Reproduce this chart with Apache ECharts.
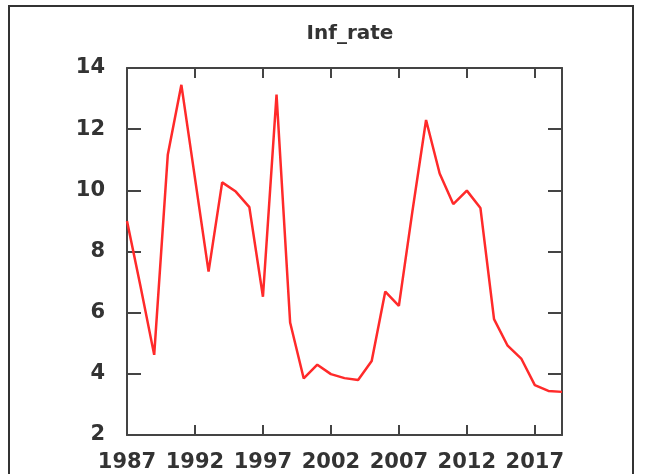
<!DOCTYPE html>
<html>
<head>
<meta charset="utf-8">
<script src="https://cdn.jsdelivr.net/npm/echarts@6/dist/echarts.min.js"></script>
<style>
  html, body { margin: 0; padding: 0; background: #fff; }
  #chart { width: 646px; height: 474px; }
</style>
</head>
<body>
<div id="chart"></div>
<script>
// inflation rate by year
var years = [1987, 1988, 1989, 1990, 1991, 1992, 1993, 1994, 1995, 1996, 1997,
  1998, 1999, 2000, 2001, 2002, 2003, 2004, 2005, 2006, 2007, 2008,
  2009, 2010, 2011, 2012, 2013, 2014, 2015, 2016, 2017, 2018, 2019]
var infRate = [9.0, 6.85, 4.62, 11.16, 13.45, 10.4, 7.34, 10.26, 9.96, 9.45, 6.52,
  13.13, 5.68, 3.85, 4.3, 3.99, 3.86, 3.8, 4.42, 6.69, 6.22, 9.33,
  12.3, 10.55, 9.55, 9.99, 9.42, 5.79, 4.92, 4.5, 3.63, 3.44, 3.41]
var titleText = 'Inf_rate'

var axisColor = '#444'
var textColor = '#333'
var labelFont = 'DejaVu Sans'

var chart = echarts.init(document.getElementById('chart'), null, { renderer: 'canvas' })

var seriesData = []
for (var i = 0; i < years.length; i++) {
  seriesData.push([years[i], infRate[i]])
}

function frameAxis(extra) {
  var axis = {
    type: 'value',
    axisLine: { show: true, lineStyle: { color: axisColor, width: 2 } },
    axisTick: { show: true, inside: true, lineStyle: { color: axisColor, width: 2 } },
    splitLine: { show: false },
    axisLabel: { show: false }
  }
  for (var k in extra) axis[k] = extra[k]
  return axis
}

var option = {
  animation: false,
  backgroundColor: '#fff',
  title: {
    text: titleText,
    left: 345,
    top: 19,
    textAlign: 'center',
    textStyle: { fontFamily: labelFont, fontSize: 20, fontWeight: 'bold', color: textColor }
  },
  grid: { left: 127, right: 84, top: 68, bottom: 39 },
  xAxis: [
    frameAxis({
      min: 1987, max: 2019, interval: 5, position: 'bottom',
      axisTick: { show: true, inside: true, length: 10, lineStyle: { color: axisColor, width: 2 } },
      axisLabel: {
        show: true, showMaxLabel: false, margin: 17,
        fontFamily: labelFont, fontSize: 21, fontWeight: 'bold', color: textColor,
        formatter: function (v) { return String(v) }
      }
    }),
    frameAxis({
      min: 1987, max: 2019, interval: 5, position: 'top',
      axisTick: { show: true, inside: true, length: 10, lineStyle: { color: axisColor, width: 2 } }
    })
  ],
  yAxis: [
    frameAxis({
      min: 2, max: 14, interval: 2, position: 'left',
      axisTick: { show: true, inside: true, length: 14, lineStyle: { color: axisColor, width: 2 } },
      axisLabel: {
        show: true, margin: 22,
        fontFamily: labelFont, fontSize: 21, fontWeight: 'bold', color: textColor
      }
    }),
    frameAxis({
      min: 2, max: 14, interval: 2, position: 'right',
      axisTick: { show: true, inside: true, length: 14, lineStyle: { color: axisColor, width: 2 } }
    })
  ],
  series: [{
    name: titleText,
    type: 'line',
    data: seriesData,
    showSymbol: false,
    smooth: false,
    lineStyle: { color: '#ff2a2a', width: 2.5 },
    z: 1
  }],
  graphic: [{
    type: 'rect',
    shape: { x: 9, y: 6, width: 624, height: 490 },
    style: { fill: null, stroke: '#333', lineWidth: 2 },
    silent: true
  }]
}
chart.setOption(option)
</script>
</body>
</html>
